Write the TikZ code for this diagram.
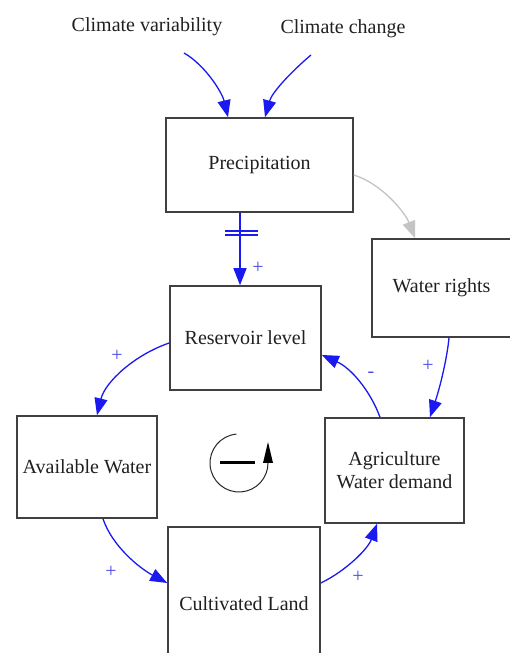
\documentclass[tikz,border=0pt]{standalone}
\usepackage{fontspec}
\setmainfont{Liberation Serif}
\usetikzlibrary{arrows.meta,calc}
\definecolor{boxline}{HTML}{404040}
\definecolor{txt}{HTML}{202020}
\definecolor{link}{HTML}{1A1AF0}
\definecolor{faint}{HTML}{C4C4C4}
\definecolor{sign}{HTML}{4A4AE6}
\begin{document}
\begin{tikzpicture}[x=1pt,y=1pt,
  var/.style={draw=boxline, line width=1.6pt, fill=white, inner sep=0pt,
    text=txt, font=\fontsize{20}{23}\selectfont, align=center},
  ext/.style={inner sep=0pt, text=txt, font=\fontsize{20}{23}\selectfont},
  link/.style={draw=link, line width=1.3pt, -{Triangle[length=17pt,width=13pt]}},
  weak/.style={link, draw=faint},
  sgn/.style={text=sign, font=\fontsize{20}{20}\selectfont, inner sep=0pt}
]
\useasboundingbox (0,0) rectangle (510,653);
\fill[white] (0,0) rectangle (510,653);

% exogenous drivers
\node[ext] (cv) at (147,626) {Climate variability};
\node[ext] (cc) at (343,624) {Climate change};
\coordinate (cvout) at (184,600);
\coordinate (ccout) at (311,598);

% stocks and variables
\node[var, minimum width=187pt, minimum height=94pt]  (prec)  at (259.5,488) {Precipitation};
\node[var, minimum width=139pt, minimum height=98pt]  (wr)    at (441.5,365) {Water rights};
\node[var, minimum width=151pt, minimum height=104pt] (res)   at (245.5,315) {Reservoir level};
\node[var, minimum width=140pt, minimum height=102pt] (avail) at (87,186)    {Available Water};
\node[var, minimum width=139pt, minimum height=105pt] (agri)  at (394.5,182.5) {Agriculture\\Water demand};
\node[var, minimum width=152pt, minimum height=154pt] (cult)  at (244,49)    {Cultivated Land};

% causal links
\draw[link] (cvout) .. controls +(21,-12) and +(-6,25) .. ($(prec.north)+(-31.5,0)$);
\draw[link] (ccout) .. controls +(-19,-16) and +(7,25) .. ($(prec.north)+(5.5,0)$);
\draw[link] ($(prec.south)+(-19.5,0)$) -- ($(res.north)+(-5.5,0)$);
\draw[weak] ($(prec.east)+(0,-10)$) .. controls +(27,-8) and +(-10,26) .. ($(wr.north)+(-26.5,0)$);
\draw[link] ($(wr.south)+(7.5,0)$) .. controls +(-2,-21) and +(10,30) .. ($(agri.north)+(35.5,0)$);
\draw[link] ($(agri.north)+(-14.5,0)$) .. controls +(-10,27) and +(29,-13) .. ($(res.east)+(0,-17)$);
\draw[link] ($(res.west)+(0,-5)$) .. controls +(-35,-12) and +(8,33) .. ($(avail.north)+(10,0)$);
\draw[link] ($(avail.south)+(16,0)$) .. controls +(9,-27) and +(-28,15) .. ($(cult.west)+(0,21)$);
\draw[link] ($(cult.east)+(0,21)$) .. controls +(25,12) and +(-9,-25) .. ($(agri.south)+(-17.5,0)$);

% delay mark on the precipitation link
\draw[link, -, line width=1.3pt] (225,422) -- (258,422) (225,418) -- (258,418);

% polarities
\node[sgn] (s1) at (258,385) {+};
\node[sgn] (s2) at (428,287) {+};
\node[sgn] (s3) at (371,278) {-};
\node[sgn] (s4) at (117,297) {+};
\node[sgn] (s5) at (111,81)  {+};
\node[sgn] (s6) at (358,76)  {+};

% loop marker
\coordinate (loop) at (239,190);
\draw[black!85, line width=1pt] ($(loop)+(95:29)$) arc[start angle=95, end angle=360, radius=29];
\fill[black] ($(loop)+(24,0)$) -- ($(loop)+(34,0)$) -- ($(loop)+(29,21)$) -- cycle;
\draw[black, line width=3pt] ($(loop)+(-19,0)$) -- ($(loop)+(16,0)$);
\end{tikzpicture}
\end{document}
